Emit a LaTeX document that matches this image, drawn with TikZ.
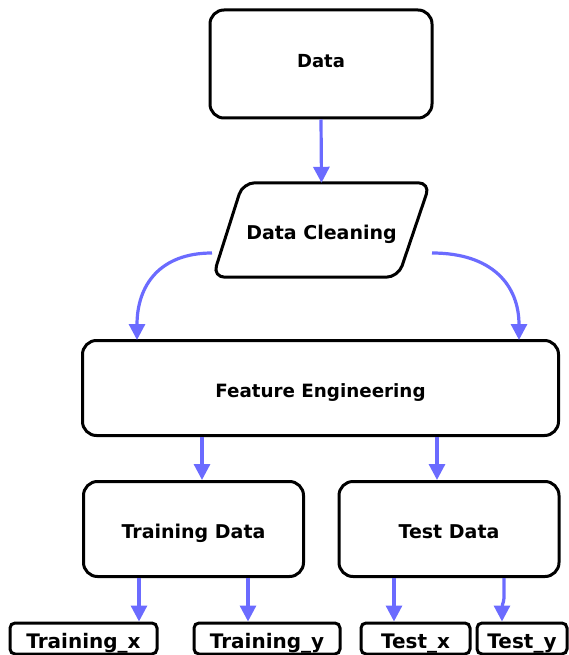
\documentclass[tikz,border=0pt]{standalone}
\usepackage{fontspec}
\setmainfont{DejaVu Sans}
\usetikzlibrary{arrows.meta,calc}
\definecolor{arrowblue}{HTML}{6B6BFF}
\tikzset{
  lbl/.style={font=\fontsize{19}{21}\selectfont\bfseries, text height=18pt, text depth=0pt},
  box/.style={draw=black, line width=3pt, rounded corners=14pt, fill=white,
    lbl, inner sep=0pt},
  smallbox/.style={draw=black, line width=3pt, rounded corners=5pt, fill=white,
    font=\fontsize{20}{22}\selectfont\bfseries, text height=19.5pt, text depth=0pt, inner sep=0pt},
  flow/.style={draw=arrowblue, line width=3.2pt,
    -{Triangle[length=16pt,width=16pt]}},
}
\begin{document}
\begin{tikzpicture}[x=1pt,y=-1pt]
\useasboundingbox (0,0) rectangle (569,655);
% main nodes
\node[box, minimum width=222, minimum height=108, font=\fontsize{18}{20}\selectfont\bfseries, text height=7.1pt] (data) at (321,64) {Data};
\node[lbl, minimum width=217, minimum height=94, inner sep=0pt] (dc) at (321.5,230) {Data Cleaning};
\draw[line width=3pt, rounded corners=12pt]
  ($(dc.north west)+(30,0)$) -- (dc.north east) -- ($(dc.south east)+(-32,0)$) -- (dc.south west) -- cycle;
\node[box, minimum width=476, minimum height=95, font=\fontsize{18.3}{20}\selectfont\bfseries] (fe) at (320.5,388) {Feature Engineering};
\node[box, minimum width=220, minimum height=95] (td) at (193.5,529) {Training Data};
\node[box, minimum width=220, minimum height=95] (ts) at (449,529) {Test Data};
\node[smallbox, minimum width=147, minimum height=31] (tx) at (83.5,638.5) {Training\_x};
\node[smallbox, minimum width=146, minimum height=31] (ty) at (267,638.5) {Training\_y};
\node[smallbox, minimum width=109, minimum height=31] (sx) at (415.5,638.5) {Test\_x};
\node[smallbox, minimum width=90, minimum height=31] (sy) at (522,638.5) {Test\_y};
% connector coordinates
\coordinate (dcl) at (212,253);
\coordinate (dcr) at (432,253);
\coordinate (fel) at (137,340);
\coordinate (fer) at (519,340);
% connectors
\draw[flow] (data.south) -- (dc.north);
\draw[flow] (dcl) .. controls (160,253) and (137,285) .. (fel);
\draw[flow] (dcr) .. controls (492,253) and (519,285) .. (fer);
\draw[flow] (fe.south -| 202,0) -- (td.north -| 202,0);
\draw[flow] (fe.south -| 437,0) -- (ts.north -| 437,0);
\draw[flow] (td.south -| 139,0) -- (tx.north -| 139,0);
\draw[flow] (td.south -| 248,0) -- (ty.north -| 248,0);
\draw[flow] (ts.south -| 394,0) -- (sx.north -| 394,0);
\draw[flow, rounded corners=2pt] (ts.south -| 504,0) -- (504,600) -- (502,606) -- (sy.north -| 502,0);
\end{tikzpicture}
\end{document}
